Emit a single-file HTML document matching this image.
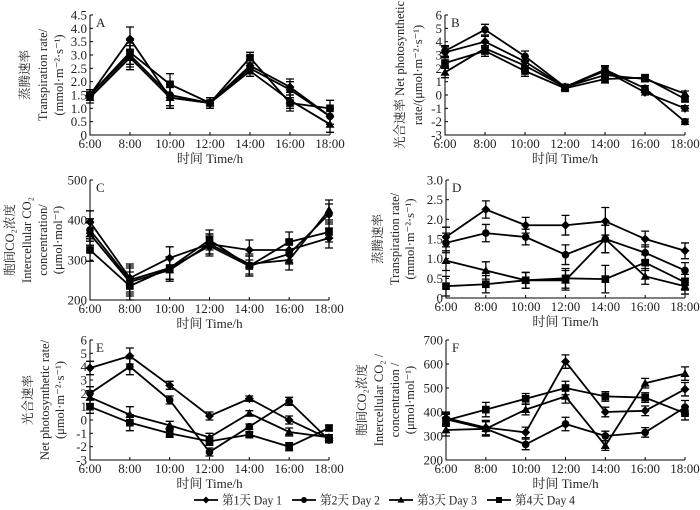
<!DOCTYPE html>
<html><head><meta charset="utf-8">
<style>
html,body{margin:0;padding:0;background:#fff;}
svg{display:block;font-family:"Liberation Serif","Noto Serif CJK SC","Noto Sans CJK SC",serif;}
</style></head>
<body>
<svg id="chart" width="700" height="510" viewBox="0 0 700 510" xmlns="http://www.w3.org/2000/svg"></svg>
<script>
const categories = ["6:00","8:00","10:00","12:00","14:00","16:00","18:00"];
const seriesNames = ["第1天 Day 1","第2天 Day 2","第3天 Day 3","第4天 Day 4"];
const markers = ["diamond","circle","triangle","square"];

// Panel A - transpiration
const aDay1 = [1.5,3.6,1.4,1.2,2.6,1.8,0.7];
const aDay2 = [1.5,3.0,1.5,1.2,2.5,1.7,0.7];
const aDay3 = [1.4,2.9,1.4,1.2,2.4,1.3,0.4];
const aDay4 = [1.5,3.1,1.9,1.2,2.9,1.2,1.0];
const aErr = [0.2,0.45,0.4,0.2,0.2,0.3,0.3];
const aTicks = ["0","0.5","1.0","1.5","2.0","2.5","3.0","3.5","4.0","4.5"];
// Panel B - net photosynthesis
const bDay1 = [3.2,4.0,2.5,0.6,1.8,0.2,-1.0];
const bDay2 = [3.3,4.9,2.9,0.6,1.9,0.5,-2.0];
const bDay3 = [1.7,3.5,2.2,0.6,1.5,1.2,0.1];
const bDay4 = [2.4,3.3,1.8,0.5,1.2,1.3,-0.3];
const bErr = [0.4,0.4,0.4,0.2,0.3,0.2,0.2];
const bTicks = ["-3","-2","-1","0","1","2","3","4","5","6"];
// Panel C - intercellular CO2
const cDay1 = [395,255,305,340,325,325,355];
const cDay2 = [375,250,280,335,285,315,415];
const cDay3 = [365,245,275,340,290,300,425];
const cDay4 = [325,235,280,350,285,345,370];
const cErr = [28,35,28,25,25,25,25];
const cTicks = ["200","300","400","500"];
// Panel D - transpiration
const dDay1 = [1.55,2.25,1.85,1.85,1.95,1.5,1.2];
const dDay2 = [1.4,1.65,1.55,1.1,1.5,1.15,0.7];
const dDay3 = [0.95,0.7,0.45,0.45,1.5,0.55,0.3];
const dDay4 = [0.3,0.35,0.45,0.5,0.48,0.9,0.4];
const dErr = [0.25,0.22,0.2,0.25,0.35,0.2,0.2];
const dTicks = ["0","0.5","1.0","1.5","2.0","2.5","3.0"];
// Panel E - net photosynthesis
const eDay1 = [3.9,4.8,2.6,0.3,1.6,0.0,-1.4];
const eDay2 = [2.0,4.0,1.5,-2.4,-0.5,1.4,-1.5];
const eDay3 = [1.7,0.4,-0.4,-1.3,0.5,-0.9,-1.3];
const eDay4 = [1.0,-0.2,-1.0,-1.6,-1.1,-2.0,-0.6];
const eErr = [0.5,0.6,0.3,0.3,0.2,0.3,0.2];
const eTicks = ["-3","-2","-1","0","1","2","3","4","5","6"];
// Panel F - intercellular CO2
const fDay1 = [375,335,315,610,400,405,495];
const fDay2 = [370,330,265,350,300,315,420];
const fDay3 = [325,330,410,465,260,520,560];
const fDay4 = [365,410,455,500,465,460,395];
const fErr = [25,30,22,28,20,20,28];
const fTicks = ["200","300","400","500","600","700"];

const panels = [
 {id:"a",label:"A",x0:90,x1:330,yTop:15,yBot:135,min:0,max:4.5,ticks:aTicks,data:[aDay1,aDay2,aDay3,aDay4],err:aErr,
  title:[["蒸腾速率",25,0],["Transpiration rate/",43,0],["(mmol·m⁻²·s⁻¹)",59,0]]},
 {id:"b",label:"B",x0:445,x1:685,yTop:15,yBot:135,min:-3,max:6,ticks:bTicks,data:[bDay1,bDay2,bDay3,bDay4],err:bErr,
  title:[["光合速率 Net photosynthetic",400,148],["rate/(μmol·m⁻²·s⁻¹)",418,0]]},
 {id:"c",label:"C",x0:90,x1:329,yTop:180,yBot:300,min:200,max:500,ticks:cTicks,data:[cDay1,cDay2,cDay3,cDay4],err:cErr,
  title:[["胞间CO₂浓度",10,0],["Intercellular CO₂",27,0],["concentration/",43,0],["(μmol·mol⁻¹)",58,0]]},
 {id:"d",label:"D",x0:446,x1:685,yTop:180,yBot:298,min:0,max:3,ticks:dTicks,data:[dDay1,dDay2,dDay3,dDay4],err:dErr,
  title:[["蒸腾速率",378,0],["Transpiration rate/",395,0],["(mmol·m⁻²·s⁻¹)",410,0]]},
 {id:"e",label:"E",x0:90,x1:329,yTop:340,yBot:460,min:-3,max:6,ticks:eTicks,data:[eDay1,eDay2,eDay3,eDay4],err:eErr,
  title:[["光合速率",28,0],["Net photosynthetic rate/",45,0],["(μmol·m⁻²·s⁻¹)",60,0]]},
 {id:"f",label:"F",x0:446,x1:685,yTop:340,yBot:460,min:200,max:700,ticks:fTicks,data:[fDay1,fDay2,fDay3,fDay4],err:fErr,
  title:[["胞间CO₂浓度",362,0],["Intercellular CO₂ /",379,0],["concentration /",395,0],["(μmol·mol⁻¹)",410,0]]}
];

const NS="http://www.w3.org/2000/svg";
const svg=document.getElementById("chart");
function mk(tag,attrs,parent){const e=document.createElementNS(NS,tag);for(const k in attrs)e.setAttribute(k,attrs[k]);(parent||svg).appendChild(e);return e;}

function drawMarker(g,type,x,y,s){
  let m;
  if(type==="diamond") m=mk("polygon",{points:`${x},${y-s} ${x+s},${y} ${x},${y+s} ${x-s},${y}`,fill:"#000"},g);
  else if(type==="circle") m=mk("circle",{cx:x,cy:y,r:s*0.85,fill:"#000"},g);
  else if(type==="triangle") m=mk("polygon",{points:`${x},${y-s} ${x+s},${y+s*0.75} ${x-s},${y+s*0.75}`,fill:"#000"},g);
  else m=mk("rect",{x:x-s*0.85,y:y-s*0.85,width:s*1.7,height:s*1.7,fill:"#000"},g);
  return m;
}

panels.forEach(p=>{
  const g=mk("g",{});
  
  
  const xs=i=>p.x0+(p.x1-p.x0)*i/(categories.length-1);
  const ys=v=>p.yBot-(v-p.min)/(p.max-p.min)*(p.yBot-p.yTop);
  const ax=mk("path",{d:`M${p.x0},${p.yTop} V${p.yBot} H${p.x1}`,stroke:"#000","stroke-width":1,fill:"none"},g);
  
  
  p.ticks.forEach(t=>{
    const y=ys(parseFloat(t));
    mk("line",{x1:p.x0,x2:p.x0+3,y1:y,y2:y,stroke:"#000"},g);
    const tx=mk("text",{x:p.x0-3,y:y+4.5,"text-anchor":"end","font-size":13,fill:"#222"},g);
    tx.textContent=t;
    
    
  });
  categories.forEach((c,i)=>{
    const x=xs(i);
    mk("line",{x1:x,x2:x,y1:p.yBot,y2:p.yBot-3,stroke:"#000"},g);
    const tx=mk("text",{x:x,y:p.yBot+13,"text-anchor":"middle","font-size":13,fill:"#222"},g);
    tx.textContent=c;
    
    
  });
  const xt=mk("text",{x:(p.x0+p.x1)/2,y:p.yBot+28,"text-anchor":"middle","font-size":13,fill:"#222"},g);
  xt.textContent="时间 Time/h";
  
  
  const lb=mk("text",{x:p.x0+6,y:p.yTop+12,"font-size":13,fill:"#222"},g);
  lb.textContent=p.label;
  
  
  const cy=(p.yTop+p.yBot)/2;
  p.title.forEach(([t,x,len])=>{
    const at={x:x,y:cy,"text-anchor":"middle","font-size":12.5,fill:"#222",transform:`rotate(-90 ${x} ${cy})`,"dominant-baseline":"central"};
    if(len){at.textLength=len;at.lengthAdjust="spacingAndGlyphs";}
    const tt=mk("text",at,g);
    tt.textContent=t;
    
    
  });
  p.data.forEach((arr,si)=>{
    const sg=mk("g",{},g);
    
    
    const pts=arr.map((v,i)=>`${xs(i)},${ys(v)}`).join(" ");
    mk("polyline",{points:pts,fill:"none",stroke:"#000","stroke-width":1.8},sg);
    arr.forEach((v,i)=>{
      const x=xs(i),e=p.err[i];
      const y1=ys(v+e),y2=ys(v-e);
      mk("path",{d:`M${x},${y1}V${y2}M${x-4},${y1}H${x+4}M${x-4},${y2}H${x+4}`,stroke:"#000","stroke-width":1.3,fill:"none"},sg);
      const m=drawMarker(sg,markers[si],x,ys(v),4.5);
      
      
    });
  });
});

const legText=[222,320,417,515];
const lg=mk("g",{});


seriesNames.forEach((n,i)=>{
  const eg=mk("g",{},lg);
  
  
  const lx=legText[i]-28;
  mk("line",{x1:lx,x2:lx+24,y1:500,y2:500,stroke:"#000","stroke-width":1.8},eg);
  drawMarker(eg,markers[i],lx+12,500,3.5);
  const t=mk("text",{x:legText[i],y:504.5,"font-size":13,fill:"#222",textLength:60,lengthAdjust:"spacingAndGlyphs"},eg);
  t.textContent=n;
});
</script>
</body></html>
